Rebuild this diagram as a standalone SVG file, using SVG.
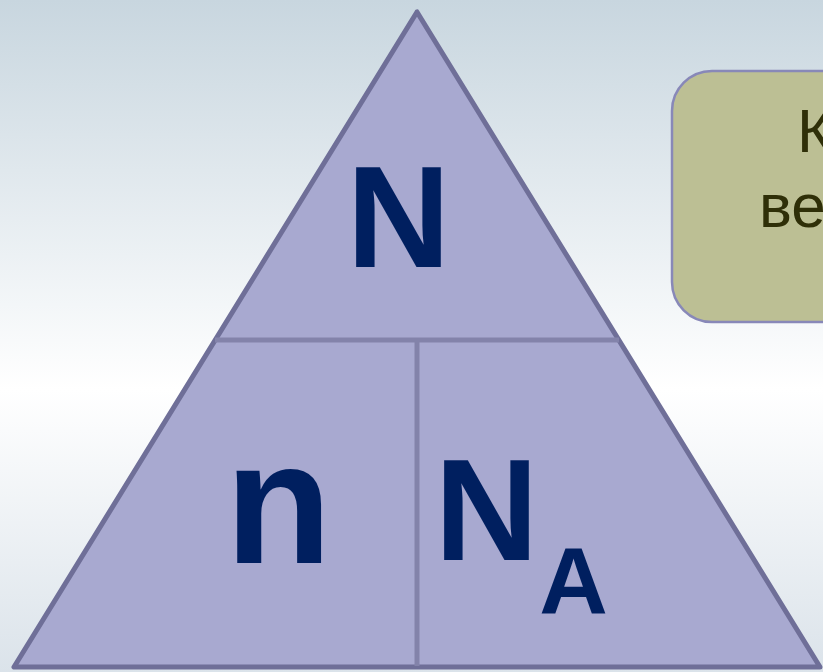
<svg xmlns="http://www.w3.org/2000/svg" width="823" height="672" viewBox="0 0 823 672">
  <defs>
    <linearGradient id="bg" x1="0" y1="0" x2="0" y2="1">
      <stop offset="0" stop-color="#c8d6df"/>
      <stop offset="0.58" stop-color="#ffffff"/>
      <stop offset="1" stop-color="#dbe3ea"/>
    </linearGradient>
    <style>
      .sym { font-family: "Liberation Sans", Arial, sans-serif; font-weight: bold; fill: #001f5f; }
      .cap { font-family: "Liberation Sans", Arial, sans-serif; fill: #2f2f08; font-size: 62px; }
      .div { stroke: #8383aa; stroke-width: 5; }
    </style>
  </defs>

  <rect width="823" height="672" fill="url(#bg)"/>

  <!-- formula triangle -->
  <g id="triangle">
    <polygon points="417,12 14,667 820,667" fill="#a8a9d0" stroke="#6f6f98" stroke-width="5" stroke-linejoin="round"/>
    <line class="div" x1="215" y1="340" x2="619" y2="340"/>
    <line class="div" x1="417" y1="340" x2="417" y2="666"/>
  </g>

  <g id="node-N">
    <text class="sym" x="398.5" y="267" font-size="144" text-anchor="middle">N</text>
  </g>
  <g id="node-n">
    <text class="sym" x="278.5" y="563" font-size="175" text-anchor="middle">n</text>
  </g>
  <g id="node-NA">
    <text class="sym" x="486.5" y="560" font-size="144" text-anchor="middle">N</text>
    <text class="sym" x="573.5" y="614" font-size="95" text-anchor="middle">A</text>
  </g>

  <!-- caption box -->
  <g id="caption">
    <rect x="672" y="71" width="200" height="251" rx="40" ry="40" fill="#bcbf94" stroke="#8888b8" stroke-width="2.5"/>
    <text class="cap" x="797" y="152">К</text>
    <text class="cap" x="759" y="227">ве</text>
  </g>
</svg>
